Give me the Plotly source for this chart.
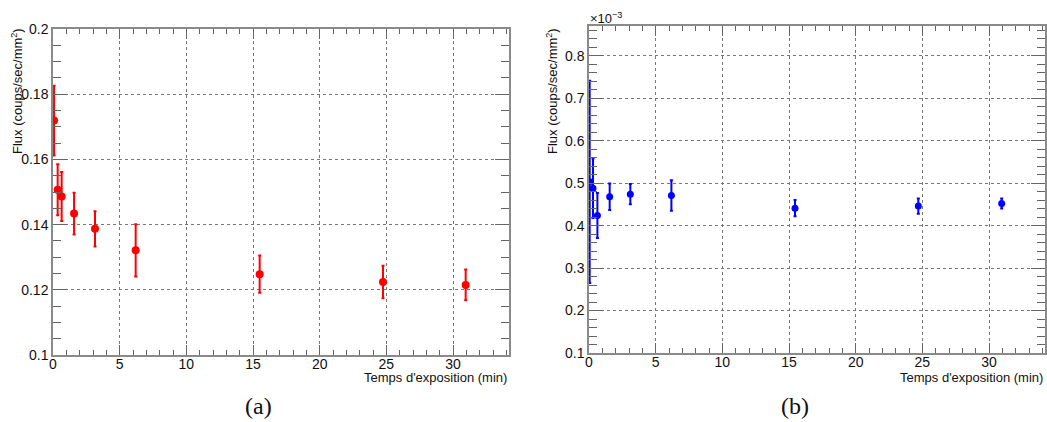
import plotly.graph_objects as go

# Panel (a)
time_a = [0.08, 0.35, 0.65, 1.58, 3.15, 6.2, 15.5, 24.75, 30.95]
flux_a = [0.1719, 0.1507, 0.1486, 0.1434, 0.1387, 0.1321, 0.1248, 0.1224, 0.1215]
err_a = [0.0107, 0.0078, 0.0075, 0.0064, 0.0054, 0.0080, 0.0057, 0.0050, 0.0047]

# Panel (b) -- flux in units of 1e-3
time_b = [0.05, 0.3, 0.63, 1.55, 3.1, 6.18, 15.45, 24.7, 30.95]
flux_b = [0.503, 0.488, 0.424, 0.468, 0.474, 0.471, 0.441, 0.446, 0.452]
err_b = [0.238, 0.070, 0.053, 0.031, 0.024, 0.036, 0.019, 0.018, 0.012]

x_ticks = [0, 5, 10, 15, 20, 25, 30]

W, H = 1047, 422
fig = go.Figure()

fig.add_trace(go.Scatter(
    x=time_a, y=flux_a, mode="markers",
    marker=dict(color="#ff0000", size=8),
    error_y=dict(type="data", array=err_a, color="#ff0000", thickness=2, width=1.5),
    xaxis="x", yaxis="y", showlegend=False))

fig.add_trace(go.Scatter(
    x=time_b, y=flux_b, mode="markers",
    marker=dict(color="#0000ff", size=7),
    error_y=dict(type="data", array=err_b, color="#0000ff", thickness=2, width=1.5),
    xaxis="x2", yaxis="y2", showlegend=False))

axis_common = dict(
    showline=True, linecolor="#8a8a8a", linewidth=1.5, mirror="ticks",
    showgrid=True, gridcolor="#777777", griddash="dot", gridwidth=1,
    ticks="inside", tickcolor="#666666", zeroline=False, automargin=False,
    tickfont=dict(family="Liberation Sans, Arial, sans-serif", size=14, color="#111"),
)

xa = dict(axis_common, range=[0, 34.2], tickvals=x_ticks, ticklen=10, ticklabelstandoff=-5,
          minor=dict(dtick=1, tick0=0, ticks="inside", ticklen=5, tickcolor="#666666", showgrid=False))

fig.update_layout(
    width=W, height=H,
    margin=dict(l=0, r=0, t=0, b=0),
    paper_bgcolor="white", plot_bgcolor="white",
    xaxis=dict(xa, domain=[53 / W, 509 / W], anchor="y"),
    yaxis=dict(axis_common, domain=[1 - 355 / H, 1 - 29 / H], anchor="x",
               range=[0.1, 0.2], dtick=0.02, tick0=0.1, ticklen=14,
               minor=dict(dtick=0.005, tick0=0.1, ticks="inside", ticklen=8, tickcolor="#666666", showgrid=False)),
    xaxis2=dict(xa, domain=[589 / W, 1045 / W], anchor="y2"),
    yaxis2=dict(axis_common, domain=[1 - 353 / H, 1 - 26 / H], anchor="x2",
                range=[0.1, 0.87], dtick=0.1, tick0=0.1, ticklen=14,
                minor=dict(dtick=0.02, tick0=0.1, ticks="inside", ticklen=8, tickcolor="#666666", showgrid=False)),
)

font_lbl = dict(family="Liberation Sans, Arial, sans-serif", size=13, color="#111")
ann = [
    dict(text="Flux (coups/sec/mm<sup>2</sup>)", x=17 / W, y=1 - 91 / H, textangle=-90,
         xanchor="center", yanchor="middle", font=font_lbl),
    dict(text="Flux (coups/sec/mm<sup>2</sup>)", x=552 / W, y=1 - 91 / H, textangle=-90,
         xanchor="center", yanchor="middle", font=font_lbl),
    dict(text="Temps d'exposition (min)", x=509 / W, y=1 - 377 / H,
         xanchor="right", yanchor="middle", font=font_lbl),
    dict(text="Temps d'exposition (min)", x=1045 / W, y=1 - 377 / H,
         xanchor="right", yanchor="middle", font=font_lbl),
    dict(text="×10<sup>−3</sup>", x=588 / W, y=1 - 18 / H,
         xanchor="left", yanchor="middle", font=font_lbl),
    dict(text="(a)", x=258 / W, y=1 - 406 / H, xanchor="center", yanchor="middle",
         font=dict(family="Liberation Serif, Times New Roman, serif", size=24, color="#111")),
    dict(text="(b)", x=795 / W, y=1 - 406 / H, xanchor="center", yanchor="middle",
         font=dict(family="Liberation Serif, Times New Roman, serif", size=24, color="#111")),
]
for a in ann:
    a.update(xref="paper", yref="paper", showarrow=False)
fig.update_layout(annotations=ann)

fig.write_html("out.html", config={"displayModeBar": False},
               post_script="document.body.style.margin='0px';")
